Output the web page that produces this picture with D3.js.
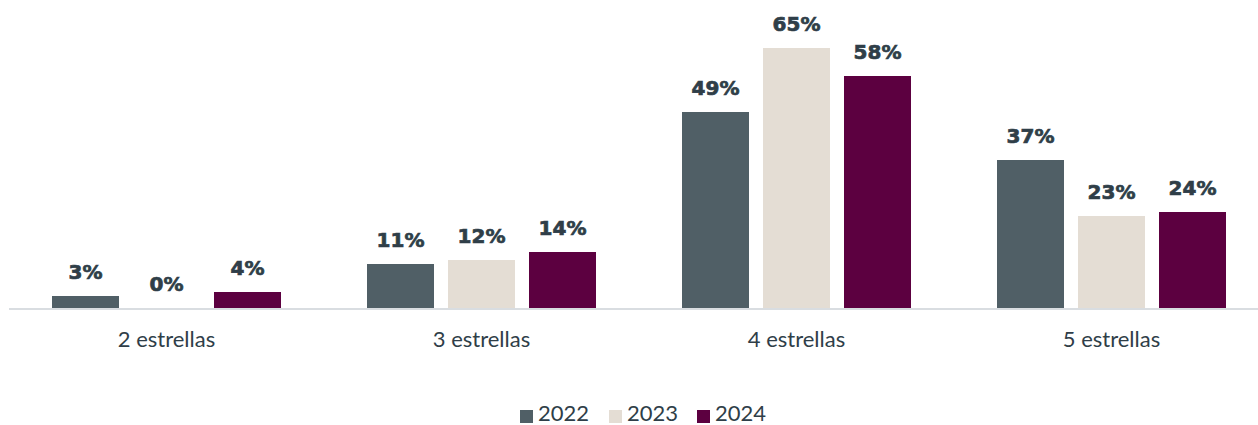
<!DOCTYPE html>
<html><head><meta charset="utf-8">
<script src="https://cdn.jsdelivr.net/npm/d3@7"></script>
<style>body{margin:0;background:#fff}svg{display:block}</style>
</head><body>
<svg id="c" width="1258" height="425"></svg>
<script>
const categories = ["2 estrellas", "3 estrellas", "4 estrellas", "5 estrellas"];
const years = ["2022", "2023", "2024"];
const values2022 = [3, 11, 49, 37];
const values2023 = [0, 12, 65, 23];
const values2024 = [4, 14, 58, 24];
const colors = ["#505f66", "#e4ddd4", "#5c0040"];
const seriesValues = [values2022, values2023, values2024];

const svg = d3.select("#c");
const baseY = 308;
const x0 = d3.scaleBand().domain(categories).range([9, 1269]).paddingInner(0).paddingOuter(0);
const x1 = d3.scaleBand().domain(years).range([43, 315 - 43]).paddingInner(14 / 81).paddingOuter(0);
const y = d3.scaleLinear().domain([0, 65]).range([baseY, baseY - 260]);

const data = categories.map((c, i) => ({cat: c, vals: years.map((yr, j) => ({yr, v: seriesValues[j][i], color: colors[j]}))}));

const g = svg.append("g");
const groups = g.selectAll("g.grp").data(data).join("g").attr("transform", d => `translate(${x0(d.cat)},0)`);
groups.selectAll("rect").data(d => d.vals).join("rect")
  .attr("x", d => x1(d.yr)).attr("width", x1.bandwidth())
  .attr("y", d => y(d.v)).attr("height", d => baseY - y(d.v))
  .attr("fill", d => d.color);
groups.selectAll("text.lbl").data(d => d.vals).join("text").attr("class", "lbl")
  .attr("x", d => x1(d.yr) + x1.bandwidth() / 2)
  .attr("y", d => y(d.v) - 17)
  .attr("text-anchor", "middle")
  .attr("font-family", "DejaVu Sans, sans-serif").attr("font-weight", "bold").attr("font-size", 20)
  .attr("fill", "#2f3e48").attr("stroke", "#2f3e48").attr("stroke-width", 0.7)
  .text(d => d.v + "%");

// axis
const axis = d3.axisBottom(x0).tickSize(0).tickPadding(0);
const ax = svg.append("g").attr("transform", `translate(0,${baseY})`).call(axis);
ax.select(".domain").attr("stroke", "#d9dde1").attr("stroke-width", 2).attr("d", "M9,1H1258");
ax.selectAll(".tick text").attr("y", 39).attr("dy", 0)
  .attr("font-family", "Lato, sans-serif").attr("font-size", 22).attr("fill", "#2f3e48");

// legend
const legX = [520, 609, 697];
const leg = svg.append("g").selectAll("g").data(years).join("g").attr("transform", (d, i) => `translate(${legX[i]},410)`);
leg.append("rect").attr("width", 13).attr("height", 13).attr("fill", (d, i) => colors[i]);
leg.append("text").attr("x", 18).attr("y", 11).attr("font-family", "Lato, sans-serif").attr("font-size", 22)
  .attr("fill", "#2f3e48").text(d => d);
</script>
</body></html>
